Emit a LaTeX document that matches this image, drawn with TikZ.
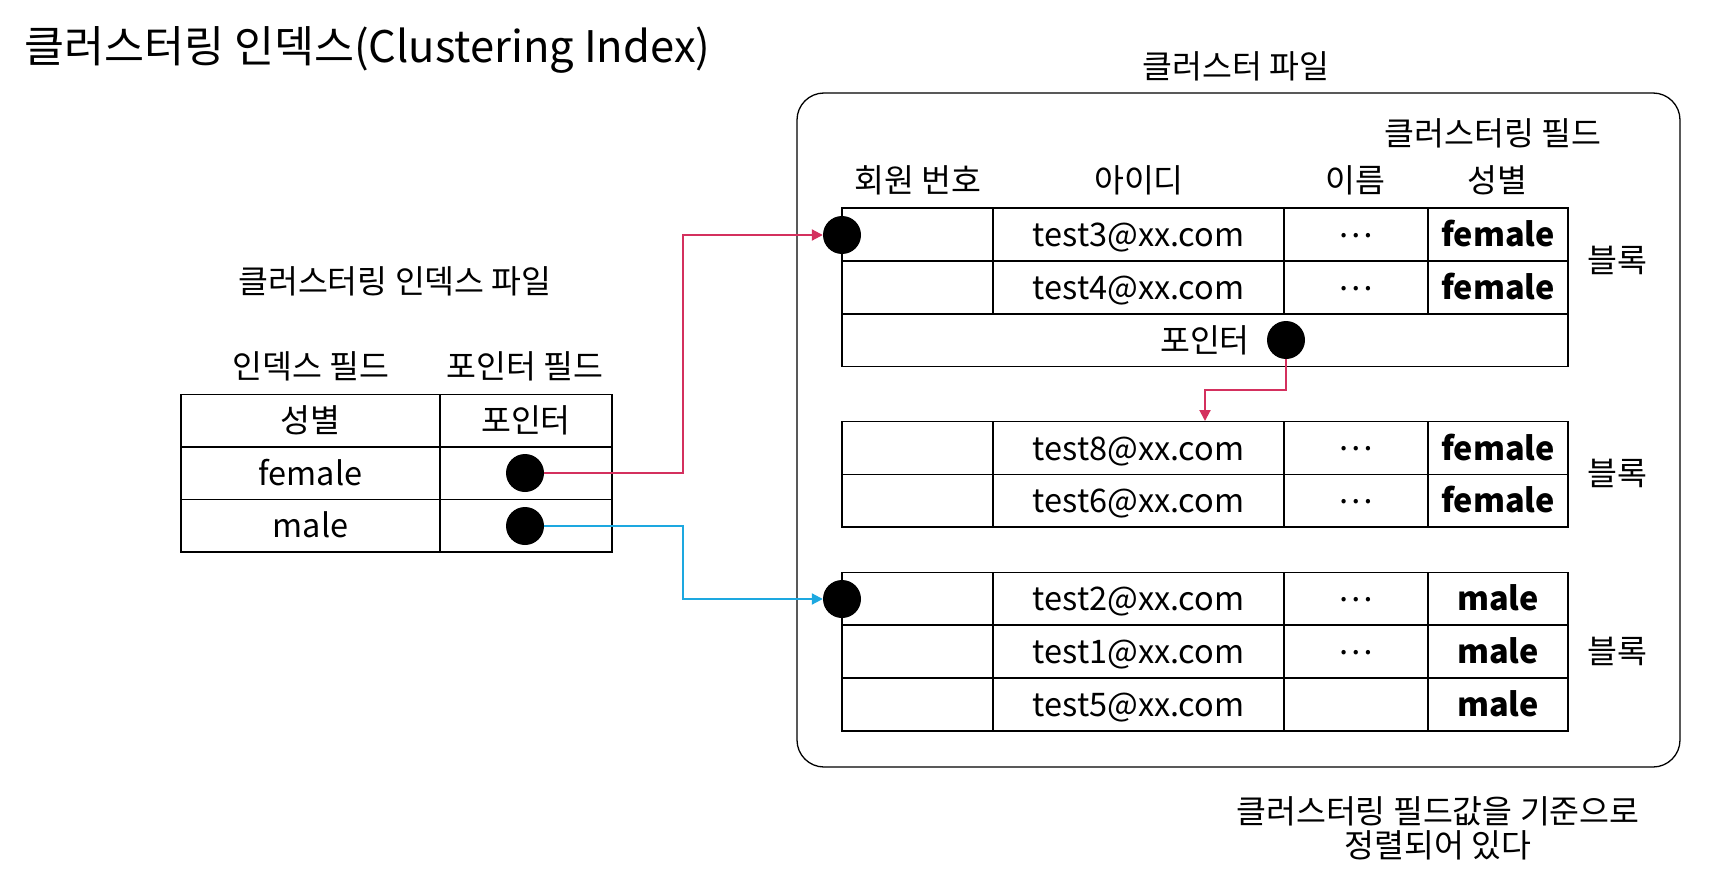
\documentclass[tikz,border=0pt]{standalone}
\usepackage{fontspec}
\setmainfont{Noto Sans CJK KR}
\usetikzlibrary{arrows.meta}

\definecolor{ptrred}{HTML}{D4305E}
\definecolor{ptrblue}{HTML}{1DA8E0}

\tikzset{
  txt/.style={inner sep=0pt, text height=28.6pt, text depth=3.9pt, font=\fontsize{32.5}{34}\selectfont},
  cell/.style={txt, draw, line width=1.3pt, minimum height=52.7pt},
  dot/.style={circle, fill=black, minimum size=38pt, inner sep=0pt},
  link/.style={line width=2pt, -{Triangle[length=11pt,width=11pt]}},
}

\begin{document}
\begin{tikzpicture}[x=1pt,y=-1pt]
  \useasboundingbox (0,0) rectangle (1713,869);

  % title
  \node[txt, anchor=west, text height=38.3pt, text depth=5.2pt, font=\fontsize{43.5}{45}\selectfont] (title) at (24,46) {클러스터링 인덱스(Clustering Index)};

  % index file
  \node[txt] (ixfile) at (395,281) {클러스터링 인덱스 파일};
  \node[txt] (ixfield) at (311,366) {인덱스 필드};
  \node[txt] (ptfield) at (525,366) {포인터 필드};
  \node[cell, minimum width=259pt] (ihead) at (310.5,420.5) {성별};
  \node[cell, minimum width=172pt] (phead) at (526,420.5) {포인터};
  \node[cell, minimum width=259pt] (ifem) at (310.5,473) {female};
  \node[cell, minimum width=172pt] (pfem) at (526,473) {};
  \node[cell, minimum width=259pt] (imale) at (310.5,525.5) {male};
  \node[cell, minimum width=172pt] (pmale) at (526,525.5) {};
  \node[dot] (dfem) at (525,473) {};
  \node[dot] (dmale) at (525,526) {};

  % cluster file
  \node[txt] (cfname) at (1236,66) {클러스터 파일};
  \node[draw, line width=1.3pt, rounded corners=27pt, minimum width=883pt, minimum height=674pt] (cfile) at (1238.5,430) {};
  \node[txt] (cfield) at (1493,133) {클러스터링 필드};
  \node[txt] (hnum) at (918,180) {회원 번호};
  \node[txt] (hid) at (1139,180) {아이디};
  \node[txt] (hname) at (1355,180) {이름};
  \node[txt] (hsex) at (1497,180) {성별};

  \foreach \nm/\y/\mail/\etc/\sex in {a1/234.5/test3/⋯/female, a2/287.5/test4/⋯/female,
      b1/448/test8/⋯/female, b2/500.5/test6/⋯/female,
      c1/598.5/test2/⋯/male, c2/651.5/test1/⋯/male, c3/704.5/test5//male}{
    \node[cell, minimum width=151pt] (\nm-num) at (917.5,\y) {};
    \node[cell, minimum width=291pt] (\nm-mail) at (1138.5,\y) {\mail @xx.com};
    \node[cell, minimum width=144pt] (\nm-etc) at (1356,\y) {\raisebox{0.3em}{\etc}};
    \node[cell, minimum width=140pt, font=\fontsize{32.5}{34}\selectfont\bfseries] (\nm-sex) at (1498,\y) {\sex};
  }
  \node[cell, minimum width=726pt] (aptr) at (1205,340) {포인터};

  \node[txt] (blka) at (1617,260) {블록};
  \node[txt] (blkb) at (1617,473) {블록};
  \node[txt] (blkc) at (1617,651) {블록};

  \node[dot] (da) at (842,235) {};
  \node[dot] (dptr) at (1286,340) {};
  \node[dot] (dc) at (842,599) {};

  \coordinate (bend) at (683,0);
  \draw[link, ptrred] (dfem.east) -- (dfem.east -| bend) |- (da.west);
  \draw[link, ptrblue] (dmale.east) -- (dmale.east -| bend) |- (dc.west);
  \draw[link, ptrred] (dptr.south) -- ++(0,31) -| (aptr.center |- b1-mail.north);

  \node[txt] (notea) at (1438,811) {클러스터링 필드값을 기준으로};
  \node[txt] (noteb) at (1438,845) {정렬되어 있다};
\end{tikzpicture}
\end{document}
